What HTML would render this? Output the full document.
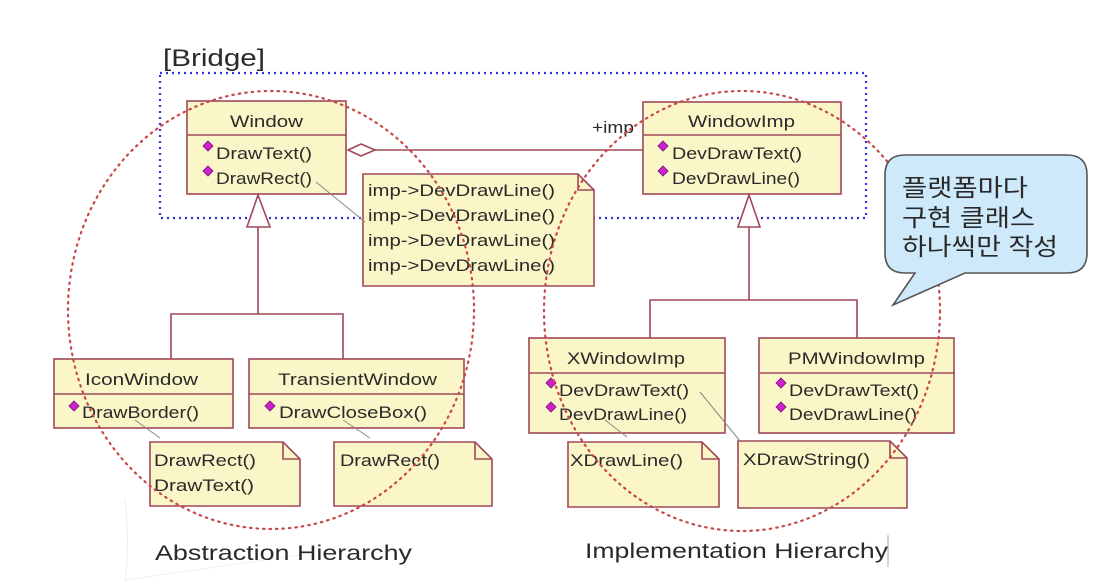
<!DOCTYPE html>
<html><head><meta charset="utf-8"><style>
html,body{margin:0;padding:0;background:#fff}
svg{display:block}
text{font-family:"Liberation Sans","Noto Sans CJK KR",sans-serif;fill:#2a2a2a}
</style></head><body>
<svg width="1114" height="587" viewBox="0 0 1114 587" xmlns="http://www.w3.org/2000/svg">
<defs>
<g id="dm"><path d="M0,-5 L5,0 L0,5 L-5,0 Z" fill="#d020d0" stroke="#701070" stroke-width="0.8"/></g>
</defs>
<path d="M125,500 Q130,545 125,580 L300,555" fill="none" stroke="#eee" stroke-width="1"/>
<text x="163" y="66" font-size="24" textLength="102" lengthAdjust="spacingAndGlyphs">[Bridge]</text>
<rect x="160" y="73" width="706" height="145" fill="none" stroke="#3030e0" stroke-width="2.2" stroke-dasharray="2,4"/>

<g stroke="#a04858" stroke-width="1.6" fill="#fbf6c8">
<rect x="187" y="101" width="159" height="93"/>
<line x1="187" y1="135" x2="346" y2="135"/>
<rect x="643" y="102" width="198" height="92"/>
<line x1="643" y1="135" x2="841" y2="135"/>
<path d="M363,174 H578 L594,190 V286 H363 Z"/>
<path d="M578,174 V190 H594" fill="none"/>
<rect x="54" y="359" width="179" height="69"/>
<line x1="54" y1="394" x2="233" y2="394"/>
<rect x="249" y="359" width="215" height="69"/>
<line x1="249" y1="394" x2="464" y2="394"/>
<path d="M150,442 H283 L300,459 V506 H150 Z"/><path d="M283,442 V459 H300" fill="none"/>
<path d="M334,442 H475 L492,459 V506 H334 Z"/><path d="M475,442 V459 H492" fill="none"/>
<rect x="529" y="338" width="196" height="95"/>
<line x1="529" y1="373" x2="725" y2="373"/>
<rect x="759" y="338" width="195" height="95"/>
<line x1="759" y1="373" x2="954" y2="373"/>
<path d="M568,442 H702 L719,459 V507 H568 Z"/><path d="M702,442 V459 H719" fill="none"/>
<path d="M738,441 H890 L907,458 V508 H738 Z"/><path d="M890,441 V458 H907" fill="none"/>
</g>

<g stroke="#a04858" stroke-width="1.6" fill="none">
<line x1="375" y1="150" x2="643" y2="150"/>
<path d="M348,150 L361,144 L375,150 L361,156 Z" fill="#fff"/>
<line x1="258" y1="227" x2="258" y2="314"/>
<path d="M171,359 V314 H343 V359"/>
<path d="M258,195 L270,227 L247,227 Z" fill="#fff"/>
<line x1="749" y1="227" x2="749" y2="300"/>
<path d="M650,338 V300 H857 V338"/>
<path d="M749,195 L760,227 L738,227 Z" fill="#fff"/>
</g>
<g stroke="#888" stroke-width="1">
<line x1="316" y1="182" x2="365" y2="222"/>
<line x1="135" y1="420" x2="160" y2="438"/>
<line x1="343" y1="420" x2="370" y2="438"/>
<line x1="605" y1="420" x2="627" y2="437"/>
<line x1="700" y1="392" x2="740" y2="441"/>
</g>

<g font-size="17" lengthAdjust="spacingAndGlyphs">
<text x="230" y="127" textLength="73" lengthAdjust="spacingAndGlyphs">Window</text>
<use href="#dm" x="208" y="146"/><text x="216" y="159" textLength="96" lengthAdjust="spacingAndGlyphs">DrawText()</text>
<use href="#dm" x="208" y="171"/><text x="216" y="184" textLength="96" lengthAdjust="spacingAndGlyphs">DrawRect()</text>
<text x="688" y="127" textLength="107" lengthAdjust="spacingAndGlyphs">WindowImp</text>
<use href="#dm" x="663" y="146"/><text x="672" y="159" textLength="130" lengthAdjust="spacingAndGlyphs">DevDrawText()</text>
<use href="#dm" x="663" y="171"/><text x="672" y="184" textLength="128" lengthAdjust="spacingAndGlyphs">DevDrawLine()</text>
<text x="592" y="133" textLength="42" lengthAdjust="spacingAndGlyphs">+imp</text>
<text x="368" y="196" textLength="187" lengthAdjust="spacingAndGlyphs">imp-&gt;DevDrawLine()</text>
<text x="368" y="221" textLength="187" lengthAdjust="spacingAndGlyphs">imp-&gt;DevDrawLine()</text>
<text x="368" y="246" textLength="187" lengthAdjust="spacingAndGlyphs">imp-&gt;DevDrawLine()</text>
<text x="368" y="271" textLength="187" lengthAdjust="spacingAndGlyphs">imp-&gt;DevDrawLine()</text>
<text x="85" y="385" textLength="113" lengthAdjust="spacingAndGlyphs">IconWindow</text>
<use href="#dm" x="74" y="406"/><text x="82" y="418" textLength="117" lengthAdjust="spacingAndGlyphs">DrawBorder()</text>
<text x="278" y="385" textLength="159" lengthAdjust="spacingAndGlyphs">TransientWindow</text>
<use href="#dm" x="270" y="406"/><text x="279" y="418" textLength="148" lengthAdjust="spacingAndGlyphs">DrawCloseBox()</text>
<text x="154" y="466" textLength="102" lengthAdjust="spacingAndGlyphs">DrawRect()</text>
<text x="154" y="491" textLength="100" lengthAdjust="spacingAndGlyphs">DrawText()</text>
<text x="340" y="466" textLength="100" lengthAdjust="spacingAndGlyphs">DrawRect()</text>
<text x="567" y="364" textLength="118" lengthAdjust="spacingAndGlyphs">XWindowImp</text>
<use href="#dm" x="551" y="383"/><text x="559" y="396" textLength="130" lengthAdjust="spacingAndGlyphs">DevDrawText()</text>
<use href="#dm" x="551" y="407"/><text x="559" y="420" textLength="128" lengthAdjust="spacingAndGlyphs">DevDrawLine()</text>
<text x="788" y="364" textLength="137" lengthAdjust="spacingAndGlyphs">PMWindowImp</text>
<use href="#dm" x="781" y="383"/><text x="789" y="396" textLength="130" lengthAdjust="spacingAndGlyphs">DevDrawText()</text>
<use href="#dm" x="781" y="407"/><text x="789" y="420" textLength="128" lengthAdjust="spacingAndGlyphs">DevDrawLine()</text>
<text x="570" y="466" textLength="113" lengthAdjust="spacingAndGlyphs">XDrawLine()</text>
<text x="743" y="465" textLength="127" lengthAdjust="spacingAndGlyphs">XDrawString()</text>
</g>

<g fill="none" stroke="#c84848" stroke-width="2.2" stroke-dasharray="1.5,5" stroke-linecap="round">
<ellipse cx="271" cy="310" rx="203" ry="219"/>
<ellipse cx="742" cy="311" rx="198" ry="220"/>
</g>

<path d="M905,155 H1067 Q1087,155 1087,175 V253 Q1087,273 1067,273 H965 L893,305 L915,273 H905 Q885,273 885,253 V175 Q885,155 905,155 Z" fill="#cde9fa" stroke="#555" stroke-width="1.6"/>
<g font-size="24" font-family="Noto Sans CJK KR, sans-serif">
<text x="902" y="196" textLength="126" lengthAdjust="spacingAndGlyphs">플랫폼마다</text>
<text x="902" y="226" textLength="133" lengthAdjust="spacingAndGlyphs">구현 클래스</text>
<text x="902" y="255" textLength="156" lengthAdjust="spacingAndGlyphs">하나씩만 작성</text>
</g>

<text x="155" y="560" font-size="21" fill="#333" textLength="257" lengthAdjust="spacingAndGlyphs">Abstraction Hierarchy</text>
<text x="585" y="558" font-size="21" fill="#333" textLength="303" lengthAdjust="spacingAndGlyphs">Implementation Hierarchy</text>
<line x1="888" y1="535" x2="888" y2="567" stroke="#aaa" stroke-width="1"/>
</svg>
</body></html>
